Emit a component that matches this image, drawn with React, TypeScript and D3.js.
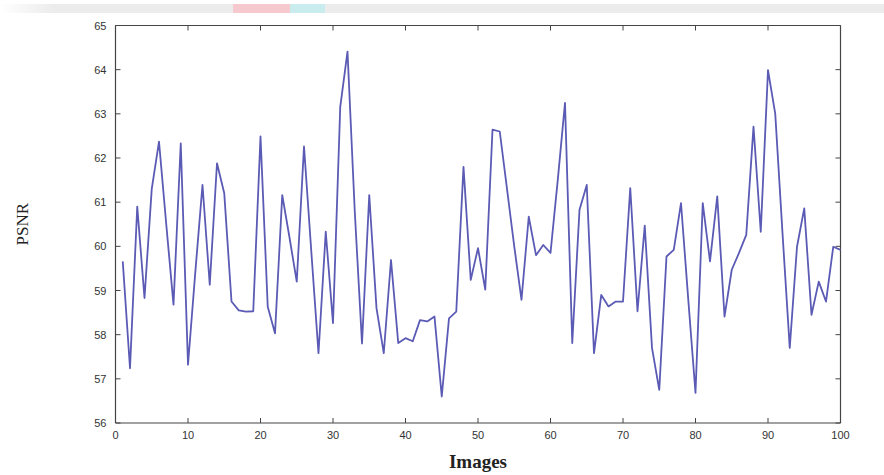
import React from "react";
import * as d3 from "d3";

const psnr: number[] = [
  59.66, 57.24, 60.9, 58.83, 61.3, 62.37, 60.5, 58.68, 62.33, 57.32,
  59.4, 61.39, 59.13, 61.88, 61.2, 58.75, 58.55, 58.52, 58.53, 62.49,
  58.63, 58.03, 61.16, 60.2, 59.2, 62.26, 59.9, 57.58, 60.33, 58.26,
  63.16, 64.41, 60.8, 57.8, 61.16, 58.6, 57.58, 59.69, 57.81, 57.92,
  57.85, 58.33, 58.3, 58.41, 56.6, 58.37, 58.52, 61.8, 59.24, 59.96,
  59.02, 62.64, 62.6, 61.3, 60.0, 58.79, 60.67, 59.8, 60.03, 59.85,
  61.5, 63.25, 57.81, 60.83, 61.39, 57.58, 58.9, 58.64, 58.75, 58.75,
  61.32, 58.53, 60.47, 57.7, 56.75, 59.77, 59.92, 60.98, 58.8, 56.68,
  60.98, 59.66, 61.13, 58.41, 59.47, 59.85, 60.26, 62.71, 60.33, 63.99,
  63.0, 60.3, 57.7, 59.99, 60.86, 58.45, 59.2, 58.75, 59.99, 59.92,
];
const images: number[] = psnr.map((_, i) => i + 1);
const xTicks: number[] = [0, 10, 20, 30, 40, 50, 60, 70, 80, 90, 100];
const yTicks: number[] = [56, 57, 58, 59, 60, 61, 62, 63, 64, 65];

export default function App() {
  const W = 884, H = 475;
  const L = 115.5, R = 840.5, T = 25.5, B = 423;
  const x = d3.scaleLinear().domain([0, 100]).range([L, R]);
  const y = d3.scaleLinear().domain([56, 65]).range([B, T]);
  const line = d3
    .line<number>()
    .x((_, i) => x(images[i]))
    .y((d) => y(d));
  const tickFont = "'Liberation Sans', Arial, sans-serif";
  return (
    <svg
      width={W}
      height={H}
      style={{ position: "absolute", left: 0, top: 0, background: "#fff" }}
    >
      <defs>
        <linearGradient id="fade" x1="0" x2="1" y1="0" y2="0">
          <stop offset="0" stopColor="#ffffff" />
          <stop offset="0.06" stopColor="#ececec" />
          <stop offset="1" stopColor="#ececec" />
        </linearGradient>
      </defs>
      <rect x={0} y={0} width={W} height={H} fill="#fff" />
      {/* top banner strip */}
      <rect x={0} y={4} width={W} height={9} fill="url(#fade)" />
      <rect x={233} y={4} width={57} height={9} fill="#f6c9cf" />
      <rect x={290} y={4} width={35} height={9} fill="#c9ecef" />
      <line x1={L} y1={T} x2={R} y2={T} stroke="#444" strokeWidth={1.2} />
      <line x1={L} y1={B} x2={R} y2={B} stroke="#444" strokeWidth={1.2} />
      <line x1={L} y1={T} x2={L} y2={B} stroke="#444" strokeWidth={1.2} />
      <line x1={R} y1={T} x2={R} y2={B} stroke="#444" strokeWidth={1.2} />
      {xTicks.map((t) => (
        <g key={"x" + t}>
          <line x1={x(t)} x2={x(t)} y1={B} y2={B - 5} stroke="#444" />
          <line x1={x(t)} x2={x(t)} y1={T} y2={T + 5} stroke="#444" />
          <text
            x={x(t)}
            y={B + 16}
            textAnchor="middle"
            fontFamily={tickFont}
            fontSize={11}
            fill="#333"
          >
            {t}
          </text>
        </g>
      ))}
      {yTicks.map((t) => (
        <g key={"y" + t}>
          <line x1={L} x2={L + 5} y1={y(t)} y2={y(t)} stroke="#444" />
          <line x1={R} x2={R - 5} y1={y(t)} y2={y(t)} stroke="#444" />
          <text
            x={L - 9}
            y={y(t) + 4}
            textAnchor="end"
            fontFamily={tickFont}
            fontSize={11}
            fill="#333"
          >
            {t}
          </text>
        </g>
      ))}
      <path
        d={line(psnr) || ""}
        fill="none"
        stroke="#5b5bb5"
        strokeWidth={1.8}
        strokeLinejoin="round"
      />
      <text
        x={478}
        y={468}
        textAnchor="middle"
        fontFamily="'Liberation Serif', 'Times New Roman', serif"
        fontSize={19}
        fontWeight="bold"
        fill="#222"
      >
        Images
      </text>
      <text
        transform={`translate(28, ${(T + B) / 2}) rotate(-90)`}
        textAnchor="middle"
        fontFamily="'Liberation Serif', 'Times New Roman', serif"
        fontSize={17}
        fill="#222"
      >
        PSNR
      </text>
    </svg>
  );
}
